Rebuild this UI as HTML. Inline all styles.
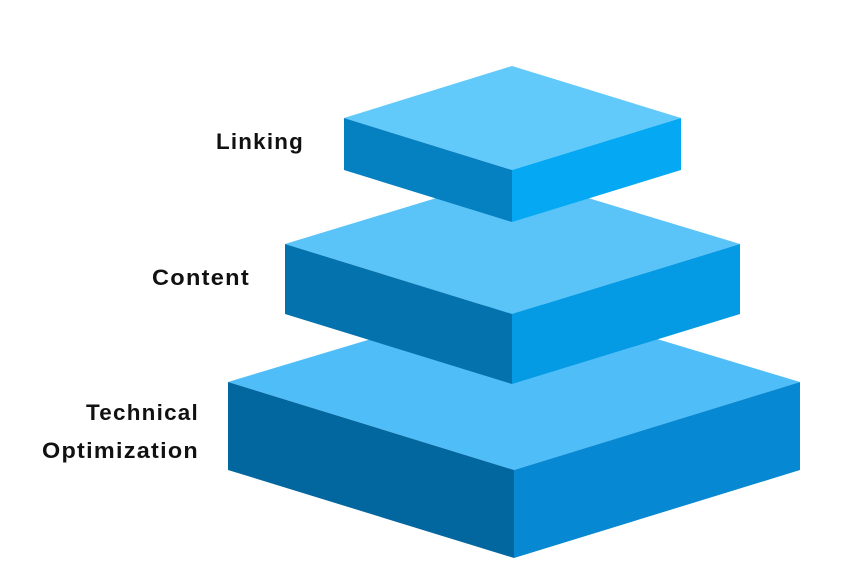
<!DOCTYPE html>
<html><head><meta charset="utf-8"><style>
html,body{margin:0;padding:0;background:#fff;width:858px;height:575px;overflow:hidden}
svg{display:block}
text{font-family:"Liberation Sans",sans-serif;font-weight:bold;font-size:22px;letter-spacing:1.2px;fill:#111}
</style></head><body>
<svg width="858" height="575" viewBox="0 0 858 575">
<polygon points="228,382 514,296 800,382 514,470" fill="#4fbdf7"/>
<polygon points="228,382 514,470 514,558 228,470" fill="#03679f"/>
<polygon points="514,470 800,382 800,470 514,558" fill="#0688d3"/>
<polygon points="285,244 512,175 740,244 512,314" fill="#5ac3f8"/>
<polygon points="285,244 512,314 512,384 285,314" fill="#0473ad"/>
<polygon points="512,314 740,244 740,314 512,384" fill="#049ae4"/>
<polygon points="344,118 512,66 681,118 512,170" fill="#62c9fb"/>
<polygon points="344,118 512,170 512,222 344,170" fill="#0580c0"/>
<polygon points="512,170 681,118 681,170 512,222" fill="#05a8f3"/>
<text x="304" y="149" text-anchor="end" textLength="88" lengthAdjust="spacingAndGlyphs">Linking</text>
<text x="250" y="285" text-anchor="end" textLength="98" lengthAdjust="spacingAndGlyphs">Content</text>
<text x="199" y="420" text-anchor="end" textLength="113" lengthAdjust="spacingAndGlyphs">Technical</text>
<text x="199" y="458" text-anchor="end" textLength="157" lengthAdjust="spacingAndGlyphs">Optimization</text>
</svg>
</body></html>
